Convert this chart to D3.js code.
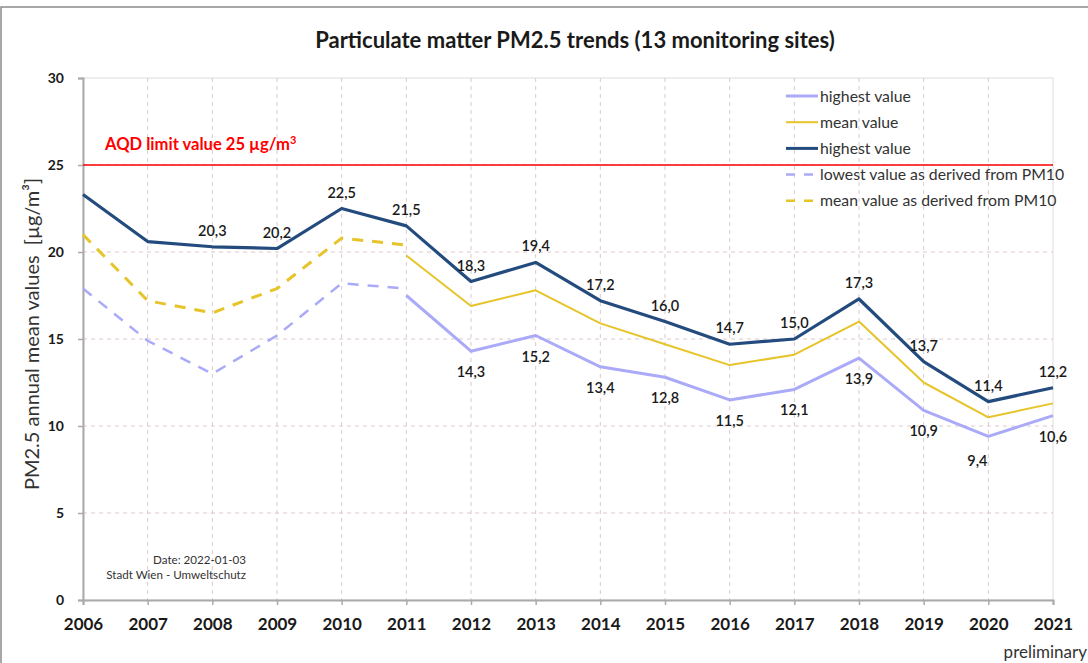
<!DOCTYPE html>
<html>
<head>
<meta charset="utf-8">
<script src="https://cdn.jsdelivr.net/npm/d3@7"></script>
<style>
  body { margin: 0; background: #fff; }
  svg { display: block; font-family: Lato, "Open Sans", sans-serif; }
</style>
</head>
<body>
<svg id="chart" width="1088" height="663"></svg>
<script>
// data
const years = [2006, 2007, 2008, 2009, 2010, 2011, 2012, 2013, 2014, 2015, 2016, 2017, 2018, 2019, 2020, 2021];
const highest = [23.3, 20.6, 20.3, 20.2, 22.5, 21.5, 18.3, 19.4, 17.2, 16.0, 14.7, 15.0, 17.3, 13.7, 11.4, 12.2];
const lowest = [null, null, null, null, null, 17.5, 14.3, 15.2, 13.4, 12.8, 11.5, 12.1, 13.9, 10.9, 9.4, 10.6];
const mean = [null, null, null, null, null, 19.8, 16.9, 17.8, 15.9, 14.7, 13.5, 14.1, 16.0, 12.5, 10.5, 11.3];
const lowestPM10 = [17.9, 14.9, 13.0, 15.2, 18.2, 17.9, null, null, null, null, null, null, null, null, null, null];
const meanPM10 = [21.0, 17.2, 16.5, 17.9, 20.8, 20.4, null, null, null, null, null, null, null, null, null, null];
// which points carry a value label
const highLabelYears = [2008, 2009, 2010, 2011, 2012, 2013, 2014, 2015, 2016, 2017, 2018, 2019, 2020, 2021];
const lowLabelYears = [2012, 2013, 2014, 2015, 2016, 2017, 2018, 2019, 2020, 2021];
const yTicks = [0, 5, 10, 15, 20, 25, 30];
const limitValue = 25;

const svg = d3.select("#chart");
const plotL = 83, plotR = 1053, plotT = 78, plotB = 600;

const x = d3.scaleLinear().domain([2006, 2021]).range([plotL, plotR]);
const y = d3.scaleLinear().domain([0, 30]).range([plotB, plotT]);

// outer frame
svg.append("rect")
  .attr("x", 1).attr("y", 7).attr("width", 1100).attr("height", 700)
  .attr("fill", "none").attr("stroke", "#8a8a8a").attr("stroke-width", 1.5);

// plot box
svg.append("rect")
  .attr("x", plotL).attr("y", plotT).attr("width", plotR - plotL).attr("height", plotB - plotT)
  .attr("fill", "none").attr("stroke", "#ddd").attr("stroke-width", 1);

// grid
svg.append("g").selectAll("line")
  .data(yTicks.filter(d => d > 0 && d < 30))
  .join("line")
  .attr("x1", plotL).attr("x2", plotR)
  .attr("y1", d => y(d)).attr("y2", d => y(d))
  .attr("stroke", "#dcc8cc").attr("stroke-dasharray", "4,4");

svg.append("g").selectAll("line")
  .data(years.slice(1, -1))
  .join("line")
  .attr("x1", d => x(d)).attr("x2", d => x(d))
  .attr("y1", plotT).attr("y2", plotB)
  .attr("stroke", "#dcc8cc").attr("stroke-dasharray", "4,4");

// axes
const yAxis = svg.append("g")
  .attr("transform", `translate(${plotL},0)`)
  .call(d3.axisLeft(y).tickValues(yTicks).tickSize(5).tickPadding(14));
const xAxis = svg.append("g")
  .attr("transform", `translate(0,${plotB})`)
  .call(d3.axisBottom(x).tickValues(years).tickFormat(d3.format("d")).tickSize(5).tickPadding(13));

[yAxis, xAxis].forEach(g => {
  g.select(".domain").attr("stroke", "#aaa").attr("stroke-width", 2);
  g.selectAll(".tick line").attr("stroke", "#aaa").attr("stroke-width", 1.5);
  g.selectAll("text").attr("fill", "#1a1a1a").attr("font-weight", "bold")
    .attr("font-family", "Lato, sans-serif");
});
yAxis.selectAll("text").attr("font-size", 14);
xAxis.selectAll("text").attr("font-size", 17);

// limit value
svg.append("line")
  .attr("x1", plotL).attr("x2", plotR)
  .attr("y1", y(limitValue)).attr("y2", y(limitValue))
  .attr("stroke", "#ff0000").attr("stroke-width", 1.5);

const aqd = svg.append("text")
  .attr("x", 105).attr("y", 150)
  .attr("fill", "#ff0000").attr("font-weight", "bold").attr("font-size", 16.6)
  .text("AQD limit value 25 µg/m");
aqd.append("tspan").attr("dy", -6).attr("font-size", 11).text("3");

// series
const series = [
  { values: highest, color: "#234b7e", width: 3.2, dash: null },
  { values: mean, color: "#e6c42a", width: 2, dash: null },
  { values: lowest, color: "#aaaaf8", width: 3, dash: null },
  { values: meanPM10, color: "#e6c42a", width: 3, dash: "11,9" },
  { values: lowestPM10, color: "#aaaaf8", width: 2.5, dash: "11,9" }
];

const line = d3.line()
  .defined(d => d[1] != null)
  .x(d => x(d[0]))
  .y(d => y(d[1]));

// draw back to front: dashed first, then lowest, mean, highest
[series[4], series[3], series[2], series[1], series[0]].forEach(s => {
  svg.append("path")
    .datum(years.map((yr, i) => [yr, s.values[i]]))
    .attr("fill", "none")
    .attr("stroke", s.color)
    .attr("stroke-width", s.width)
    .attr("stroke-dasharray", s.dash)
    .attr("stroke-linejoin", "round")
    .attr("d", line);
});

// value labels
const fmt = v => d3.format(".1f")(v).replace(".", ",");

svg.append("g").selectAll("text")
  .data(highLabelYears)
  .join("text")
  .attr("x", d => x(d))
  .attr("y", d => y(highest[years.indexOf(d)]) - 11)
  .attr("text-anchor", "middle")
  .attr("font-size", 14.5).attr("font-weight", 600).attr("fill", "#1a1a1a")
  .text(d => fmt(highest[years.indexOf(d)]));

svg.append("g").selectAll("text")
  .data(lowLabelYears)
  .join("text")
  .attr("x", d => x(d) - (d === 2020 ? 11 : 0))
  .attr("y", d => y(lowest[years.indexOf(d)]) + (d === 2020 ? 30 : 26))
  .attr("text-anchor", "middle")
  .attr("font-size", 14.5).attr("font-weight", 600).attr("fill", "#1a1a1a")
  .text(d => fmt(lowest[years.indexOf(d)]));

// legend
const legendItems = [
  { label: "highest value", color: "#aaaaf8", width: 3, dash: null },
  { label: "mean value", color: "#e6c42a", width: 2, dash: null },
  { label: "highest value", color: "#234b7e", width: 3, dash: null },
  { label: "lowest value as derived from PM10", color: "#aaaaf8", width: 2.5, dash: "9,9" },
  { label: "mean value as derived from PM10", color: "#e6c42a", width: 2.5, dash: "9,9" }
];
const legend = svg.append("g").attr("transform", "translate(786,96)");
const rows = legend.selectAll("g")
  .data(legendItems)
  .join("g")
  .attr("transform", (d, i) => `translate(0,${i * 26.2})`);
rows.append("line")
  .attr("x1", 0).attr("x2", 32)
  .attr("stroke", d => d.color)
  .attr("stroke-width", d => d.width)
  .attr("stroke-dasharray", d => d.dash);
rows.append("text")
  .attr("x", 34).attr("y", 5.5)
  .attr("font-size", 15.8).attr("fill", "#333")
  .text(d => d.label);

// title
svg.append("text")
  .attr("x", 575).attr("y", 48)
  .attr("text-anchor", "middle")
  .attr("font-size", 22).attr("font-weight", "bold").attr("fill", "#1a1a1a")
  .text("Particulate matter PM2.5 trends (13 monitoring sites)");

// y label
svg.append("text")
  .attr("transform", "translate(39,334) rotate(-90)")
  .attr("text-anchor", "middle")
  .attr("font-size", 20).attr("fill", "#333")
  .text("PM2.5 annual mean values\u00a0\u00a0[µg/m³]");

// source notes
svg.append("text")
  .attr("x", 246).attr("y", 564)
  .attr("text-anchor", "end")
  .attr("font-size", 11.6).attr("fill", "#333")
  .text("Date: 2022-01-03");
svg.append("text")
  .attr("x", 246).attr("y", 579)
  .attr("text-anchor", "end")
  .attr("font-size", 11.6).attr("fill", "#333")
  .text("Stadt Wien - Umweltschutz");

svg.append("text")
  .attr("x", 1087).attr("y", 658)
  .attr("text-anchor", "end")
  .attr("font-size", 17).attr("fill", "#333")
  .text("preliminary");
</script>
</body>
</html>
